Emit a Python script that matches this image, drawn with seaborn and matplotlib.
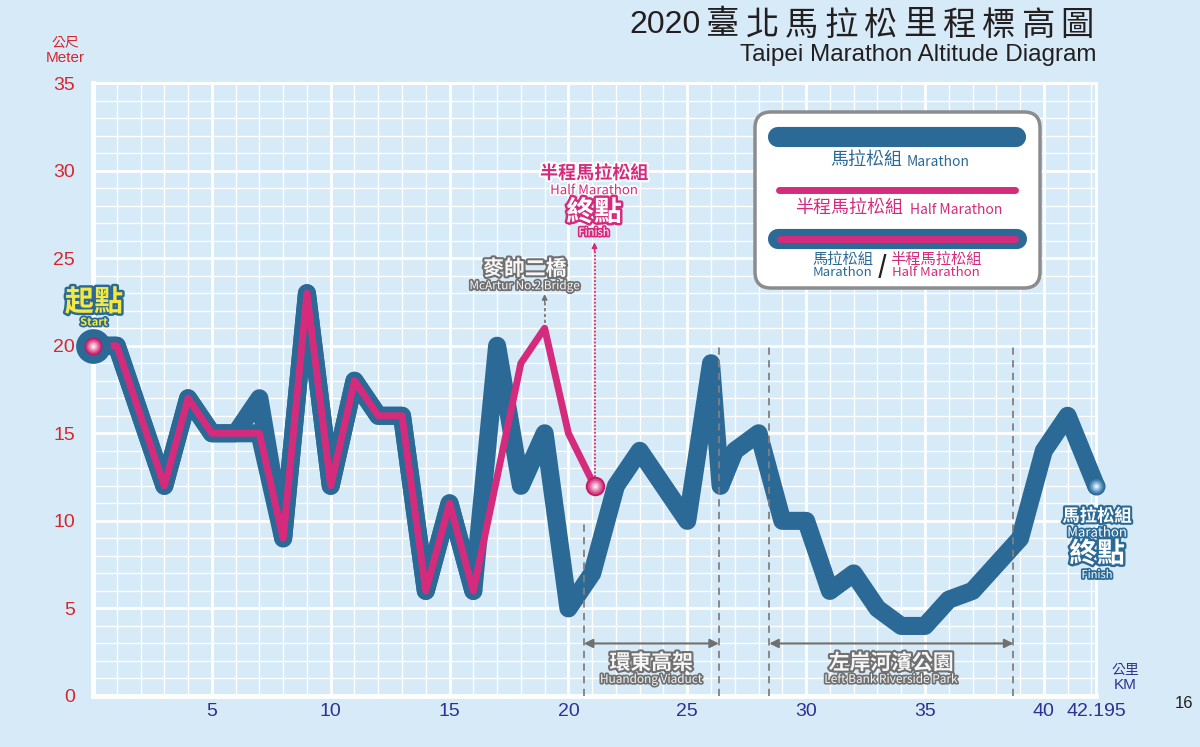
import numpy as np
import pandas as pd
import matplotlib
matplotlib.use("Agg")
import matplotlib.pyplot as plt
import seaborn as sns
from matplotlib import patheffects as pe
from matplotlib.ticker import MultipleLocator
from matplotlib.patches import FancyBboxPatch
from matplotlib.lines import Line2D
from matplotlib.transforms import IdentityTransform

# ---------------- data ----------------
full_km = [0, 1, 3, 4, 5, 6, 7, 8, 9, 10, 11, 12, 13, 14, 15, 16, 17, 18, 19, 20,
           21, 22, 23, 25, 26, 26.4, 27, 28, 29, 30, 31, 32, 33, 34, 35, 36, 37, 38, 39, 40,
           41, 42.195]
full_alt = [20, 20, 12, 17, 15, 15, 17, 9, 23, 12, 18, 16, 16, 6, 11, 6, 20, 12, 15, 5,
            7, 12, 14, 10, 19, 12, 14, 15, 10, 10, 6, 7, 5, 4, 4, 5.5, 6, 7.5, 9, 14,
            16, 12]
half_km = [0, 1, 3, 4, 5, 6, 7, 8, 9, 10, 11, 12, 13, 14, 15, 16, 18, 19, 20, 21.0975]
half_alt = [20, 20, 12, 17, 15, 15, 15, 9, 23, 12, 18, 16, 16, 6, 11, 6, 19, 21, 15, 12]

x_ticks = [5, 10, 15, 20, 25, 30, 35, 40, 42.195]
x_tick_labels = ["5", "10", "15", "20", "25", "30", "35", "40", "42.195"]
y_ticks = [0, 5, 10, 15, 20, 25, 30, 35]

shared_until = 16          # km where the half-marathon route leaves the full route
bridge_km, bridge_alt = 19, 21
section_bounds = [(20.65, 26.33), (28.45, 38.72)]
section_tops = [10, 20, 20, 20]
section_names = [("環東高架", "Huandong Viaduct"), ("左岸河濱公園", "Left Bank Riverside Park")]

# ---------------- style ----------------
BG = '#d7eaf7'
BLUE = '#2b6a96'
PINK = '#d52b7c'
RED = '#d8262e'
NAVY = '#2e3192'
GRAY = '#707070'
YEL = '#f4e842'

sns.set_theme(style='darkgrid', rc={'axes.facecolor': BG, 'figure.facecolor': BG,
                                    'grid.color': 'white'})
CJK = ['Noto Sans CJK TC', 'DejaVu Sans']
plt.rcParams['font.family'] = CJK

fig = plt.figure(figsize=(12, 7.47), dpi=100)
ax = fig.add_axes([93 / 1200, 1 - 696 / 747, (1096 - 93) / 1200, (696 - 83) / 747])

df_full = pd.DataFrame({'km': full_km, 'alt': full_alt})
df_half = pd.DataFrame({'km': half_km, 'alt': half_alt})
shared = df_half[df_half.km <= shared_until]
alone = df_half[df_half.km >= shared_until]

common = dict(estimator=None, sort=False, ax=ax, solid_capstyle='round',
              solid_joinstyle='round', clip_on=False, legend=False)
sns.lineplot(data=df_full, x='km', y='alt', color=BLUE, linewidth=13, zorder=3, **common)
sns.lineplot(data=shared, x='km', y='alt', color=PINK, linewidth=5, zorder=4,
             path_effects=[pe.Stroke(linewidth=13, foreground=BLUE), pe.Normal()], **common)
sns.lineplot(data=alone, x='km', y='alt', color=PINK, linewidth=5, zorder=5, **common)

ax.set_xlim(0, 42.195)
ax.set_ylim(0, 35)
ax.set_xlabel('')
ax.set_ylabel('')
ax.set_xticks(x_ticks)
ax.set_xticklabels(x_tick_labels)
ax.set_yticks(y_ticks)
ax.xaxis.set_minor_locator(MultipleLocator(1))
ax.yaxis.set_minor_locator(MultipleLocator(1))
ax.grid(True, which='major', color='white', linewidth=2)
ax.grid(True, which='minor', color='white', linewidth=1)
ax.set_axisbelow(True)
ax.tick_params(which='both', length=0)
ax.tick_params(axis='y', labelcolor=RED, labelsize=14, pad=13)
ax.tick_params(axis='x', labelcolor=NAVY, labelsize=14, pad=5)
for lbl in ax.get_xticklabels() + ax.get_yticklabels():
    lbl.set_family('Liberation Sans')
for side, s in ax.spines.items():
    s.set_visible(True)
    s.set_color('white')
    s.set_linewidth(3.5 if side in ('left', 'bottom') else 2)
    s.set_zorder(1)


def sphere(x, y, size, colors, z=10):
    n = len(colors)
    for i, c in enumerate(colors):
        ax.plot([x], [y], 'o', ms=size * (1 - i / n), color=c, mec='none', zorder=z + i,
                clip_on=False)


pink_sphere = ['#c01c66', '#d8468a', '#e676a7', '#f1aecb', '#fbe4ee']
blue_sphere = ['#2b6a96', '#4884af', '#74a6cb', '#a8cbe3', '#e2f0f9']

# start marker
ax.plot([full_km[0]], [full_alt[0]], 'o', ms=25, color=BLUE, mec='none', zorder=9, clip_on=False)
sphere(full_km[0], full_alt[0], 13, pink_sphere)
# finish markers
sphere(half_km[-1], half_alt[-1], 14, pink_sphere)
sphere(full_km[-1], full_alt[-1], 13, blue_sphere)


def label(x, y, s, size, fc, ec, sw=3, weight='bold'):
    ax.text(x, y, s, fontsize=size, color=fc, ha='center', va='center', fontweight=weight,
            path_effects=[pe.withStroke(linewidth=sw, foreground=ec)], zorder=15,
            clip_on=False)


# start
label(0.04, 22.5, "起點", 21, YEL, BLUE, 3.5)
label(0.04, 21.35, "Start", 8, YEL, BLUE, 2.5)

# bridge
ax.plot([bridge_km, bridge_km], [bridge_alt + 0.3, 22.6], ls=(0, (2, 1.5)), color=GRAY,
        lw=1.2, zorder=6)
ax.annotate('', xy=(bridge_km, 22.95), xytext=(bridge_km, 22.5),
            arrowprops=dict(arrowstyle='-|>', color=GRAY, lw=1, mutation_scale=8,
                            shrinkA=0, shrinkB=0), zorder=6)
label(18.17, 24.4, "麥帥二橋", 15, '#f7f7f7', GRAY, 3)
label(18.17, 23.42, "McArtur No.2 Bridge", 8.5, '#f7f7f7', GRAY, 2.5, weight='normal')

# half finish
hx = half_km[-1]
ax.plot([hx, hx], [half_alt[-1] + 0.5, 25.5], ls=(0, (1, 1)), color=PINK, lw=1.3, zorder=6)
ax.annotate('', xy=(hx, 25.9), xytext=(hx, 25.4),
            arrowprops=dict(arrowstyle='-|>', color=PINK, lw=1, mutation_scale=8,
                            shrinkA=0, shrinkB=0), zorder=6)
label(hx - 0.02, 29.85, "半程馬拉松組", 13, PINK, 'white', 3)
label(hx - 0.02, 28.85, "Half Marathon", 9.5, PINK, 'white', 2.5, weight='normal')
label(hx - 0.02, 27.6, "終點", 20, 'white', PINK, 3.5)
label(hx - 0.02, 26.45, "Finish", 8, 'white', PINK, 2.5, weight='normal')

# marathon finish
fx = 42.24
label(fx, 10.25, "馬拉松組", 12.5, 'white', BLUE, 3)
label(fx, 9.3, "Marathon", 9.5, 'white', BLUE, 2.5, weight='normal')
label(fx, 8.1, "終點", 20, 'white', BLUE, 3.5)
label(fx, 6.9, "Finish", 8, 'white', BLUE, 2.5, weight='normal')

# sections
bx = [b for pair in section_bounds for b in pair]
ax.vlines(bx, 0, section_tops, colors='#808080', linestyles=(0, (4, 3)), lw=1.3, zorder=6)
for (a, b), (zh, en) in zip(section_bounds, section_names):
    ax.annotate('', xy=(a, 3), xytext=(b, 3),
                arrowprops=dict(arrowstyle='<|-|>', color=GRAY, lw=1.5, mutation_scale=13,
                                shrinkA=0, shrinkB=0), zorder=6)
    mid = (a + b) / 2
    label(mid, 1.9, zh, 15, '#f7f7f7', GRAY, 3)
    label(mid, 0.95, en, 8.5, '#f7f7f7', GRAY, 2.5, weight='normal')

# axis unit labels, title
fig.text(65 / 1200, 1 - 43 / 747, "公尺", color=RED, fontsize=10, ha='center', va='center')
fig.text(65 / 1200, 1 - 57.5 / 747, "Meter", color=RED, fontsize=11, ha='center', va='center',
         family='Liberation Sans')
fig.text(1125 / 1200, 1 - 670 / 747, "公里", color=NAVY, fontsize=10, ha='center', va='center')
fig.text(1125 / 1200, 1 - 685 / 747, "KM", color=NAVY, fontsize=11, ha='center', va='center',
         family='Liberation Sans')
fig.text(1184 / 1200, 1 - 703 / 747, "16", color='#231f20', fontsize=12, ha='center',
         va='center', family='Liberation Sans')

title_num = "2020"
title_cjk = "臺北馬拉松里程標高圖"
TC = '#231f20'
fig.text(701 / 1200, 1 - 25 / 747, title_num, color=TC, fontsize=23, ha='right', va='center',
         family='Liberation Sans')
step = (1097 - 703) / len(title_cjk)
for i, ch in enumerate(title_cjk):
    fig.text((703 + step * (i + 0.5)) / 1200, 1 - 25 / 747, ch, color=TC, fontsize=24,
             ha='center', va='center')
fig.text(1097 / 1200, 1 - 55 / 747, "Taipei Marathon Altitude Diagram", color=TC,
         fontsize=17.5, ha='right', va='center', family='Liberation Sans')

# legend (drawn in pixel coordinates)
disp = IdentityTransform()
H = 747
box = FancyBboxPatch((755, H - 288), 285, 176, boxstyle='round,pad=0,rounding_size=16',
                     transform=disp, facecolor='white', edgecolor='#8c8c8c', linewidth=2.5,
                     zorder=20)
fig.add_artist(box)
for (x0, x1, yy, lw, c) in [(778, 1016, 137, 14.5, BLUE), (779, 1015, 190, 5, PINK),
                            (778, 1017, 239, 14.5, BLUE), (780, 1015, 239, 5, PINK)]:
    fig.add_artist(Line2D([x0, x1], [H - yy, H - yy], transform=disp, lw=lw, color=c,
                          solid_capstyle='round', zorder=21))


def ftext(x, y, s, size, c, ha='center', weight='medium', **kw):
    fig.text(x, H - y, s, transform=disp, fontsize=size, color=c, ha=ha, va='center',
             fontweight=weight, zorder=22, **kw)


ftext(902, 160, "馬拉松組", 13, BLUE, ha='right')
ftext(907, 162, "Marathon", 10, BLUE, ha='left')
ftext(903, 208, "半程馬拉松組", 13, PINK, ha='right')
ftext(910, 210, "Half Marathon", 10, PINK, ha='left')
ftext(843, 259, "馬拉松組", 11, BLUE)
ftext(843, 273, "Marathon", 9.5, BLUE)
ftext(882, 266, "/", 17, '#231f20', weight='bold')
ftext(936, 259, "半程馬拉松組", 11, PINK)
ftext(936, 273, "Half Marathon", 9.5, PINK)

fig.savefig('out.png', dpi=100, facecolor=BG)
